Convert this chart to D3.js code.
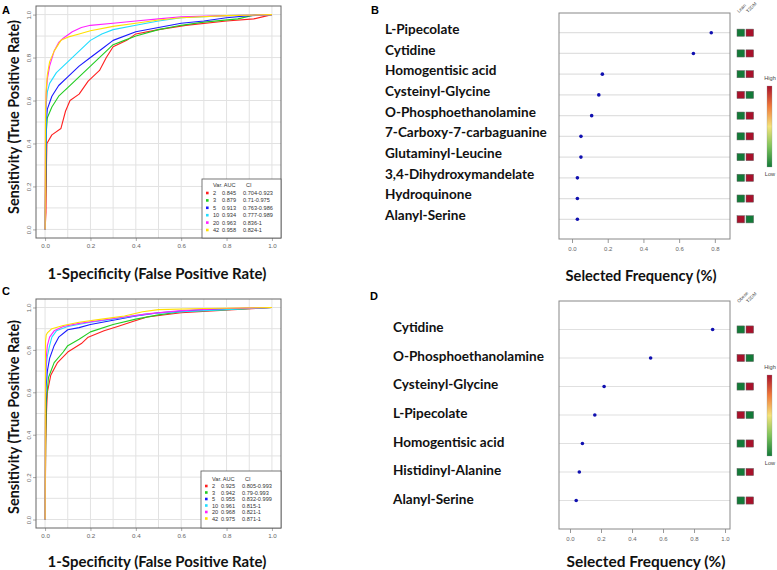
<!DOCTYPE html>
<html>
<head>
<meta charset="utf-8">
<script src="https://cdn.jsdelivr.net/npm/d3@7"></script>
<style>
  body { margin: 0; background: #fff; }
  svg { display: block; }
</style>
</head>
<body>
<svg id="chart" width="777" height="570"></svg>
<script>
// ---- ROC data (fpr, tpr) ----
const rocVars = ["2", "3", "5", "10", "20", "42"];
const aucA = [0.845, 0.879, 0.913, 0.934, 0.963, 0.958];
const ciA = ["0.704-0.923", "0.71-0.975", "0.763-0.986", "0.777-0.989", "0.836-1", "0.824-1"];
const aucC = [0.925, 0.942, 0.955, 0.961, 0.968, 0.975];
const ciC = ["0.805-0.993", "0.79-0.993", "0.832-0.999", "0.815-1", "0.821-1", "0.871-1"];

const rocA2 = [[0,0],[0.004,0.08],[0.006,0.3],[0.008,0.4],[0.03,0.44],[0.07,0.47],[0.09,0.55],[0.11,0.6],[0.15,0.63],[0.19,0.69],[0.24,0.74],[0.27,0.8],[0.3,0.85],[0.36,0.88],[0.4,0.91],[0.5,0.93],[0.62,0.95],[0.8,0.97],[0.92,0.98],[1,1]];
const rocA3 = [[0,0],[0.003,0.2],[0.005,0.45],[0.01,0.52],[0.03,0.57],[0.06,0.62],[0.1,0.66],[0.15,0.71],[0.2,0.76],[0.25,0.81],[0.3,0.86],[0.35,0.88],[0.4,0.9],[0.5,0.93],[0.6,0.95],[0.7,0.965],[0.85,0.98],[0.93,1],[1,1]];
const rocA5 = [[0,0],[0.003,0.3],[0.005,0.5],[0.01,0.56],[0.03,0.62],[0.06,0.67],[0.1,0.71],[0.15,0.76],[0.2,0.8],[0.25,0.84],[0.3,0.88],[0.4,0.92],[0.5,0.94],[0.6,0.96],[0.7,0.97],[0.8,0.985],[0.9,0.995],[1,1]];
const rocA10 = [[0,0],[0.003,0.4],[0.005,0.58],[0.01,0.64],[0.02,0.68],[0.05,0.73],[0.1,0.78],[0.15,0.83],[0.2,0.88],[0.25,0.91],[0.3,0.93],[0.4,0.95],[0.5,0.97],[0.6,0.985],[0.8,0.995],[1,1]];
const rocA20 = [[0,0],[0.002,0.5],[0.005,0.63],[0.01,0.7],[0.02,0.76],[0.04,0.83],[0.06,0.87],[0.08,0.89],[0.12,0.92],[0.16,0.94],[0.2,0.95],[0.3,0.96],[0.4,0.97],[0.5,0.98],[0.6,0.99],[0.8,0.995],[1,1]];
const rocA42 = [[0,0],[0.002,0.55],[0.005,0.65],[0.01,0.72],[0.02,0.78],[0.04,0.83],[0.07,0.88],[0.1,0.895],[0.15,0.91],[0.2,0.925],[0.3,0.945],[0.4,0.96],[0.5,0.975],[0.6,0.985],[0.8,0.995],[1,1]];

const rocC2 = [[0,0],[0.003,0.35],[0.006,0.5],[0.01,0.6],[0.025,0.68],[0.055,0.74],[0.1,0.79],[0.16,0.83],[0.19,0.86],[0.26,0.89],[0.32,0.91],[0.39,0.935],[0.45,0.955],[0.6,0.975],[0.83,0.99],[1,1]];
const rocC3 = [[0,0],[0.003,0.4],[0.005,0.55],[0.015,0.67],[0.04,0.74],[0.08,0.79],[0.1,0.82],[0.15,0.85],[0.2,0.885],[0.3,0.92],[0.4,0.945],[0.5,0.965],[0.6,0.98],[0.8,0.99],[1,1]];
const rocC5 = [[0,0],[0.002,0.5],[0.004,0.62],[0.01,0.7],[0.02,0.76],[0.04,0.82],[0.06,0.86],[0.1,0.895],[0.15,0.905],[0.2,0.92],[0.3,0.94],[0.4,0.96],[0.5,0.975],[0.7,0.99],[1,1]];
const rocC10 = [[0,0],[0.002,0.6],[0.005,0.72],[0.01,0.77],[0.02,0.82],[0.03,0.86],[0.05,0.89],[0.1,0.91],[0.2,0.93],[0.3,0.945],[0.45,0.97],[0.6,0.98],[0.7,0.985],[0.8,0.99],[1,1]];
const rocC20 = [[0,0],[0.002,0.65],[0.005,0.76],[0.01,0.82],[0.02,0.86],[0.04,0.89],[0.08,0.91],[0.15,0.925],[0.25,0.94],[0.35,0.955],[0.45,0.97],[0.6,0.985],[0.8,0.995],[1,1]];
const rocC42 = [[0,0],[0.001,0.5],[0.002,0.84],[0.005,0.87],[0.01,0.88],[0.03,0.9],[0.08,0.915],[0.15,0.93],[0.25,0.945],[0.35,0.96],[0.43,0.98],[0.5,0.99],[0.7,0.995],[1,1]];

// ---- selected frequency data ----
const metabB = ["L-Pipecolate", "Cytidine", "Homogentisic acid", "Cysteinyl-Glycine", "O-Phosphoethanolamine",
  "7-Carboxy-7-carbaguanine", "Glutaminyl-Leucine", "3,4-Dihydroxymandelate", "Hydroquinone", "Alanyl-Serine"];
const freqB = [0.78, 0.68, 0.17, 0.15, 0.11, 0.05, 0.05, 0.03, 0.03, 0.03];
const leanHighB = [0, 0, 0, 1, 0, 0, 0, 0, 0, 1];   // 1 = high in first column (Lean)
const ticksB = [0, 0.2, 0.4, 0.6, 0.8];

const metabD = ["Cytidine", "O-Phosphoethanolamine", "Cysteinyl-Glycine", "L-Pipecolate",
  "Homogentisic acid", "Histidinyl-Alanine", "Alanyl-Serine"];
const freqD = [0.92, 0.52, 0.22, 0.16, 0.08, 0.06, 0.04];
const obeseHighD = [0, 1, 0, 1, 0, 0, 0];           // 1 = high in first column (Obese)
const ticksD = [0, 0.2, 0.4, 0.6, 0.8, 1.0];

// ---- styles ----
const rocColors = ["#ff2020", "#22cc22", "#1a1aff", "#22ddff", "#ff22ff", "#ffe000"];
const titleFont = "Lato, 'Open Sans', sans-serif";
const smallFont = "'Liberation Sans', Arial, sans-serif";
const heatColor = d3.scaleLinear()
  .domain([0, 0.25, 0.5, 0.75, 1])
  .range(["#137a38", "#7cc35a", "#f3e27a", "#f07a3a", "#a8112b"]);

const svg = d3.select("#chart");

// fit a text element to a target width by changing its font size
function fitWidth(text, w) {
  const len = text.node().getComputedTextLength();
  const fs = parseFloat(text.attr("font-size"));
  text.attr("font-size", fs * w / len);
}

function drawROC(cfg) {
  const g = svg.append("g");
  const [x0, y0, x1, y1] = cfg.box;
  const x = d3.scaleLinear().domain([-0.04, 1.04]).range([x0, x1]);
  const y = d3.scaleLinear().domain([-0.04, 1.04]).range([y1, y0]);
  const grid = d3.range(0, 11).map(d => d / 10);

  g.selectAll(".gx").data(grid).join("line")
    .attr("x1", d => x(d)).attr("x2", d => x(d))
    .attr("y1", y0).attr("y2", y1)
    .attr("stroke", "#e2e2e2").attr("stroke-width", 1);
  g.selectAll(".gy").data(grid).join("line")
    .attr("y1", d => y(d)).attr("y2", d => y(d))
    .attr("x1", x0).attr("x2", x1)
    .attr("stroke", "#e2e2e2").attr("stroke-width", 1);

  const line = d3.line().x(d => x(d[0])).y(d => y(d[1]));
  g.selectAll(".roc").data(cfg.series).join("path")
    .attr("d", line)
    .attr("fill", "none")
    .attr("stroke", (d, i) => rocColors[i])
    .attr("stroke-width", 1.1)
    .attr("stroke-linejoin", "round");

  // axes
  const ticks = [0, 0.2, 0.4, 0.6, 0.8, 1.0];
  const ax = g.append("g").attr("transform", `translate(0,${y1})`)
    .call(d3.axisBottom(x).tickValues(ticks).tickFormat(d3.format(".1f")).tickSize(3).tickPadding(3));
  const ay = g.append("g").attr("transform", `translate(${x0},0)`)
    .call(d3.axisLeft(y).tickValues(ticks).tickFormat(d3.format(".1f")).tickSize(3).tickPadding(3));
  [ax, ay].forEach(a => {
    a.select(".domain").remove();
    a.selectAll("line").attr("stroke", "#aaa");
    a.selectAll("text").attr("font-family", smallFont).attr("font-size", 6.2).attr("fill", "#666");
  });
  // y labels parallel to the axis, as R draws them
  ay.selectAll("text")
    .attr("text-anchor", "middle")
    .attr("dominant-baseline", "central")
    .attr("transform", "translate(-8,0) rotate(-90)")
    .attr("x", 0).attr("y", 0).attr("dy", null);

  g.append("rect")
    .attr("x", x0).attr("y", y0).attr("width", x1 - x0).attr("height", y1 - y0)
    .attr("fill", "none").attr("stroke", "#666").attr("stroke-width", 1);

  // legend
  const L = cfg.legend;
  const lg = g.append("g").attr("font-family", smallFont).attr("font-size", 5.6).attr("fill", "#333");
  lg.append("rect")
    .attr("x", L.x).attr("y", L.y).attr("width", x1 - L.x).attr("height", y1 - L.y)
    .attr("fill", "#fff").attr("stroke", "#555").attr("stroke-width", 0.8);
  const hy = L.header;
  lg.append("text").attr("x", L.x + 11).attr("y", hy).attr("dominant-baseline", "central").text("Var. AUC");
  lg.append("text").attr("x", L.x + 44).attr("y", hy).attr("dominant-baseline", "central").text("CI");
  const rows = lg.selectAll(".row").data(rocVars).join("g")
    .attr("transform", (d, i) => `translate(0,${L.row0 + i * L.step})`);
  rows.append("rect").attr("x", L.x + 4).attr("y", -1.3).attr("width", 2.6).attr("height", 2.6)
    .attr("fill", (d, i) => rocColors[i]);
  rows.append("text").attr("x", L.x + 11).attr("dominant-baseline", "central").text(d => d);
  rows.append("text").attr("x", L.x + 20).attr("dominant-baseline", "central")
    .text((d, i) => d3.format(".3f")(cfg.auc[i]));
  rows.append("text").attr("x", L.x + 41).attr("dominant-baseline", "central")
    .text((d, i) => cfg.ci[i]);

  // titles
  const xt = svg.append("text")
    .attr("x", cfg.xTitle[0]).attr("y", cfg.xTitle[1])
    .attr("text-anchor", "middle").attr("font-family", titleFont).attr("font-weight", "bold")
    .attr("font-size", 16).attr("fill", "#111")
    .text("1-Specificity (False Positive Rate)");
  fitWidth(xt, 219);
  const yt = svg.append("text")
    .attr("transform", `translate(${cfg.yTitle[0]},${cfg.yTitle[1]}) rotate(-90)`)
    .attr("text-anchor", "middle").attr("dominant-baseline", "central")
    .attr("font-family", titleFont).attr("font-weight", "bold")
    .attr("font-size", 16).attr("fill", "#111")
    .text("Sensitivity (True Positive Rate)");
  fitWidth(yt, 194);

  svg.append("text").attr("x", cfg.letter[0]).attr("y", cfg.letter[1])
    .attr("font-family", smallFont).attr("font-weight", "bold").attr("font-size", 11)
    .text(cfg.label);
}

let labelSize = null;

function drawFreq(cfg) {
  const g = svg.append("g");
  const [x0, y0, x1, y1] = cfg.box;
  const x = d3.scaleLinear().domain(cfg.xDomain).range([x0, x1]);
  const y = d3.scalePoint().domain(cfg.names).range([y0, y1]).padding(cfg.pad);
  const ly = d3.scalePoint().domain(cfg.names).range(cfg.labelRange);

  g.selectAll(".grid").data(cfg.names).join("line")
    .attr("x1", x0).attr("x2", x1)
    .attr("y1", d => y(d)).attr("y2", d => y(d))
    .attr("stroke", "#e0e0e0").attr("stroke-width", 1.2);

  g.selectAll(".dot").data(cfg.freq).join("circle")
    .attr("cx", d => x(d))
    .attr("cy", (d, i) => y(cfg.names[i]))
    .attr("r", 1.8)
    .attr("fill", "#1010b0");

  const ax = g.append("g").attr("transform", `translate(0,${y1})`)
    .call(d3.axisBottom(x).tickValues(cfg.ticks).tickFormat(d3.format(".1f")).tickSize(4).tickPadding(4));
  ax.select(".domain").remove();
  ax.selectAll("line").attr("stroke", "#999");
  ax.selectAll("text").attr("font-family", smallFont).attr("font-size", 6).attr("fill", "#666");

  g.append("rect")
    .attr("x", x0).attr("y", y0).attr("width", x1 - x0).attr("height", y1 - y0)
    .attr("fill", "none").attr("stroke", "#888").attr("stroke-width", 1);

  // metabolite labels
  if (labelSize === null) {
    const probe = svg.append("text").attr("font-family", titleFont).attr("font-weight", "bold")
      .attr("font-size", 13).text("7-Carboxy-7-carbaguanine");
    fitWidth(probe, 162);
    labelSize = parseFloat(probe.attr("font-size"));
    probe.remove();
  }
  svg.selectAll(null).data(cfg.names).join("text")
    .attr("x", cfg.labelX)
    .attr("y", d => ly(d))
    .attr("dominant-baseline", "central")
    .attr("font-family", titleFont).attr("font-weight", "bold")
    .attr("font-size", labelSize).attr("fill", "#111")
    .text(d => d);

  // heat cells
  const cols = [cfg.cellX, cfg.cellX + 9];
  const cells = g.selectAll(".cell").data(cfg.names).join("g")
    .attr("transform", d => `translate(0,${y(d)})`);
  cols.forEach((cx, c) => {
    cells.append("rect")
      .attr("x", cx).attr("y", -3.6).attr("width", 7.6).attr("height", 7.2)
      .attr("fill", (d, i) => heatColor(c === 0 ? cfg.firstHigh[i] : 1 - cfg.firstHigh[i]))
      .attr("stroke", "#666").attr("stroke-width", 0.5);
  });
  cfg.groups.forEach((t, c) => {
    svg.append("text")
      .attr("transform", `translate(${cols[c] + 2},${cfg.groupY}) rotate(-45)`)
      .attr("font-family", smallFont).attr("font-size", 4.6).attr("fill", "#444")
      .text(t);
  });

  // color bar
  const [bx, by0, by1] = cfg.bar;
  const gradId = "grad" + cfg.label;
  const grad = svg.append("defs").append("linearGradient").attr("id", gradId)
    .attr("x1", 0).attr("x2", 0).attr("y1", 1).attr("y2", 0);
  d3.range(0, 1.01, 0.125).forEach(t => {
    grad.append("stop").attr("offset", t).attr("stop-color", heatColor(t));
  });
  svg.append("rect").attr("x", bx).attr("y", by0).attr("width", 5).attr("height", by1 - by0)
    .attr("fill", `url(#${gradId})`).attr("stroke", "#999").attr("stroke-width", 0.3);
  svg.append("text").attr("x", bx + 3).attr("y", by0 - 6).attr("text-anchor", "middle")
    .attr("font-family", smallFont).attr("font-size", 5.6).attr("fill", "#444").text("High");
  svg.append("text").attr("x", bx + 3).attr("y", by1 + 9).attr("text-anchor", "middle")
    .attr("font-family", smallFont).attr("font-size", 5.6).attr("fill", "#444").text("Low");

  const xt = svg.append("text")
    .attr("x", cfg.xTitle[0]).attr("y", cfg.xTitle[1])
    .attr("text-anchor", "middle").attr("font-family", titleFont).attr("font-weight", "bold")
    .attr("font-size", 16).attr("fill", "#111")
    .text("Selected Frequency (%)");
  fitWidth(xt, cfg.xTitleW);

  svg.append("text").attr("x", cfg.letter[0]).attr("y", cfg.letter[1])
    .attr("font-family", smallFont).attr("font-weight", "bold").attr("font-size", 11)
    .text(cfg.label);
}

drawROC({
  label: "A", letter: [2, 14],
  box: [36, 6, 281, 238],
  series: [rocA2, rocA3, rocA5, rocA10, rocA20, rocA42],
  auc: aucA, ci: ciA,
  legend: { x: 202, y: 179, header: 185, row0: 193, step: 7.4 },
  xTitle: [157, 279], yTitle: [13, 117]
});

drawROC({
  label: "C", letter: [2, 295],
  box: [36, 299, 281, 528],
  series: [rocC2, rocC3, rocC5, rocC10, rocC20, rocC42],
  auc: aucC, ci: ciC,
  legend: { x: 201, y: 471, header: 479, row0: 486, step: 6.5 },
  xTitle: [157, 567], yTitle: [13, 417]
});

drawFreq({
  label: "B", letter: [371, 14],
  box: [559, 13, 730, 239],
  xDomain: [-0.073, 0.885],
  names: metabB, freq: freqB, firstHigh: leanHighB, ticks: ticksB,
  pad: 0.95, labelRange: [29, 215], labelX: 385,
  cellX: 737, groups: ["Lean", "T2DM"], groupY: 13,
  bar: [767, 86, 167],
  xTitle: [641, 281], xTitleW: 151
});

drawFreq({
  label: "D", letter: [370, 300],
  box: [559, 301, 730, 529],
  xDomain: [-0.071, 1.032],
  names: metabD, freq: freqD, firstHigh: obeseHighD, ticks: ticksD,
  pad: 1, labelRange: [327, 499], labelX: 393,
  cellX: 737, groups: ["Obese", "T2DM"], groupY: 303,
  bar: [767, 375, 456],
  xTitle: [646, 567], xTitleW: 159
});
</script>
</body>
</html>
